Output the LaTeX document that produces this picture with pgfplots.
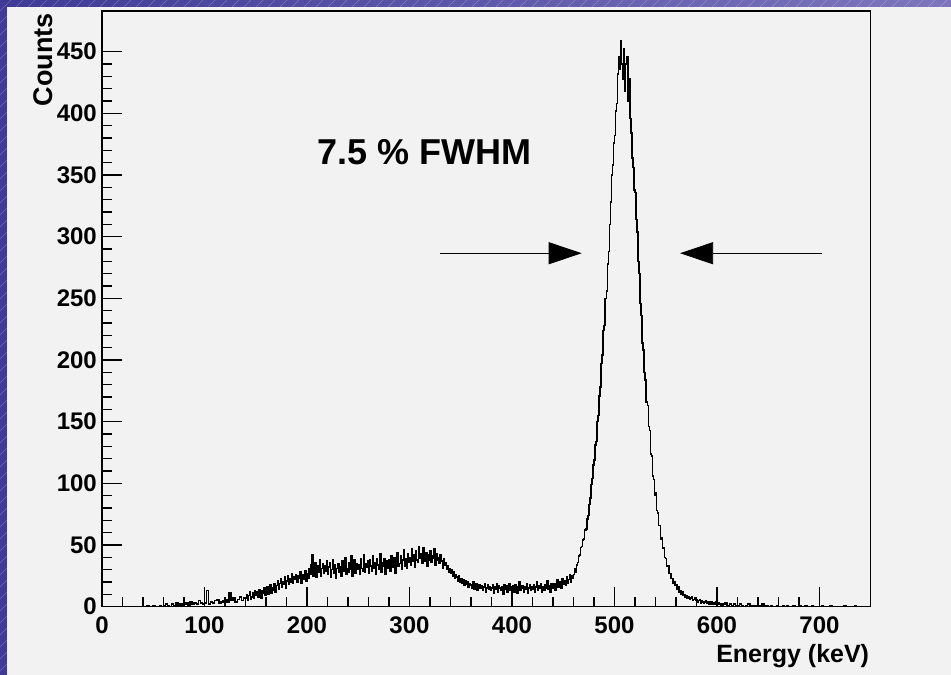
\documentclass[border=0pt]{standalone}
\usepackage{pgfplots}
\pgfplotsset{compat=1.18}
\usepackage{pgfplotstable}
\usepackage{fontspec}
\setmainfont{Liberation Sans}
\usetikzlibrary{arrows.meta}
\definecolor{panel}{HTML}{F2F2F2}
\definecolor{bgA}{RGB}{62,58,150}
\definecolor{bgB}{RGB}{125,118,190}

% 2 keV bins, 0 ... 140 keV
\pgfplotstableread[row sep=\\]{
y\\
0\\0\\0\\0\\0\\0\\0\\0\\0\\0\\
0\\0\\0\\0\\0\\0\\0\\0\\0\\0\\
0\\0\\1\\0\\0\\1\\0\\0\\1\\0\\
1\\2\\1\\0\\2\\1\\3\\1\\2\\1\\
2\\3\\1\\4\\2\\3\\2\\5\\3\\2\\
3\\13\\2\\4\\3\\5\\6\\3\\4\\5\\
6\\4\\11\\5\\7\\4\\6\\8\\5\\7\\
7\\
}\lowpart

% 1 keV bins, 140 ... 600 keV
\pgfplotstableread[row sep=\\]{
y\\
7\\10\\5\\9\\12\\6\\8\\11\\7\\13\\
9\\12\\8\\14\\10\\7\\13\\11\\15\\9\\
12\\16\\10\\14\\18\\11\\15\\13\\19\\12\\
17\\21\\14\\19\\23\\16\\20\\18\\24\\15\\
21\\25\\18\\23\\20\\27\\19\\24\\22\\26\\
20\\25\\23\\28\\19\\26\\22\\24\\29\\21\\
27\\23\\31\\26\\34\\42\\25\\30\\36\\24\\
33\\28\\38\\25\\31\\35\\27\\33\\29\\37\\
26\\32\\36\\24\\30\\38\\27\\34\\23\\31\\
35\\28\\32\\25\\37\\29\\33\\40\\26\\31\\
28\\36\\30\\41\\25\\33\\38\\27\\35\\30\\
34\\26\\39\\31\\29\\42\\28\\35\\32\\37\\
27\\38\\33\\29\\41\\31\\36\\26\\39\\34\\
30\\43\\28\\36\\33\\39\\26\\37\\35\\31\\
38\\29\\41\\34\\32\\40\\27\\36\\44\\33\\
35\\41\\30\\38\\46\\33\\39\\31\\43\\36\\
40\\34\\47\\37\\42\\32\\45\\38\\36\\49\\
39\\43\\35\\48\\37\\41\\44\\33\\42\\38\\
45\\36\\41\\39\\47\\34\\43\\38\\40\\35\\
42\\37\\31\\39\\34\\36\\30\\33\\28\\31\\
27\\30\\25\\28\\23\\26\\24\\21\\25\\20\\
23\\19\\22\\17\\21\\18\\20\\16\\19\\17\\
18\\15\\20\\14\\17\\19\\13\\16\\18\\15\\
17\\13\\16\\19\\12\\15\\18\\14\\16\\13\\
15\\18\\11\\16\\14\\19\\12\\17\\15\\13\\
16\\10\\18\\14\\17\\12\\15\\19\\13\\16\\
14\\17\\12\\18\\15\\11\\16\\20\\13\\15\\
17\\12\\16\\14\\19\\11\\15\\18\\13\\16\\
14\\18\\12\\16\\20\\13\\17\\15\\19\\12\\
16\\13\\18\\15\\21\\14\\17\\12\\19\\16\\
15\\19\\13\\17\\22\\16\\18\\20\\15\\23\\
18\\21\\17\\24\\19\\22\\26\\20\\25\\23\\
26\\31\\28\\34\\36\\41\\42\\48\\49\\54\\
55\\62\\63\\71\\74\\83\\88\\99\\104\\115\\
119\\131\\134\\150\\155\\171\\178\\197\\204\\224\\
228\\250\\256\\278\\288\\310\\328\\350\\358\\376\\
382\\402\\408\\432\\446\\436\\459\\440\\428\\452\\
418\\440\\446\\410\\428\\396\\384\\364\\356\\338\\
336\\314\\304\\280\\270\\246\\236\\214\\208\\190\\
184\\166\\163\\146\\143\\124\\122\\106\\103\\90\\
92\\78\\76\\66\\66\\55\\56\\47\\48\\40\\
39\\33\\33\\27\\27\\23\\23\\19\\20\\17\\
18\\14\\16\\12\\13\\10\\12\\9\\10\\8\\
9\\7\\8\\6\\7\\8\\5\\6\\7\\5\\
6\\4\\5\\6\\3\\5\\4\\3\\4\\5\\
3\\4\\2\\3\\4\\2\\3\\3\\2\\4\\
3\\
}\midpart

% 2 keV bins, 600 ... 750 keV
\pgfplotstableread[row sep=\\]{
y\\
3\\2\\1\\2\\3\\1\\2\\1\\2\\1\\
1\\2\\1\\0\\1\\2\\1\\0\\1\\1\\
0\\1\\2\\0\\1\\0\\1\\0\\0\\1\\
0\\0\\1\\0\\1\\0\\0\\1\\0\\0\\
1\\0\\0\\1\\0\\0\\1\\0\\0\\0\\
0\\1\\0\\0\\0\\1\\0\\0\\0\\0\\
0\\0\\1\\0\\0\\0\\0\\1\\0\\0\\
0\\0\\0\\0\\0\\0\\
}\highpart

\begin{document}
\begin{tikzpicture}[x=1pt,y=1pt]
\path[use as bounding box] (0,0) rectangle (951,675);
\shade[left color=bgA, right color=bgB] (0,0) rectangle (951,675);
\begin{scope}
\clip (0,0) rectangle (951,675);
\foreach \i in {-700,-688,...,960} \draw[white,opacity=0.25,line width=0.4pt] (\i,0) -- ++(675,675);
\fill[panel] (7,0) rectangle (951,668);
\node[white, font=\bfseries\fontsize{37}{40}\selectfont, anchor=base, inner sep=0pt] at (496,682) {Energy spectrum};
\end{scope}
\begin{axis}[
  scale only axis,
  width=768.7pt, height=595.7pt,
  at={(102pt,68.3pt)}, anchor=south west,
  xmin=0, xmax=750, ymin=0, ymax=483,
  xtick={0,100,...,700}, ytick={0,50,...,450},
  minor x tick num=4, minor y tick num=4,
  tick align=inside, tick pos=left,
  major tick length=20pt, minor tick length=10pt,
  tick style={black, line width=1.2pt},
  axis line style={line width=1.3pt},
  ticklabel style={font=\bfseries\fontsize{24}{28}\selectfont},
  /pgf/number format/assume math mode=true,
  yticklabel style={inner sep=0pt, xshift=-5pt},
  xticklabel style={inner sep=0pt, yshift=-10pt},
]
\addplot[const plot mark left, black, line width=1.5pt] table[x expr=\coordindex*2, y=y] {\lowpart};
\addplot[const plot mark left, black, line width=1.5pt] table[x expr=140+\coordindex, y=y] {\midpart};
\addplot[const plot mark left, black, line width=1.5pt] table[x expr=600+\coordindex*2, y=y] {\highpart};
\node[anchor=base, inner sep=0pt, font=\bfseries\fontsize{36}{40}\selectfont] at (axis cs:315,358.2) {7.5 \% FWHM};
\draw[-{Triangle[length=33pt,width=22pt]}, line width=0.8pt] (axis cs:329.8,286.6) -- (axis cs:468,286.6);
\draw[-{Triangle[length=33pt,width=22pt]}, line width=0.8pt] (axis cs:702.4,286.6) -- (axis cs:564,286.6);
\end{axis}
\node[rotate=90, anchor=south east, inner sep=0pt, font=\bfseries\fontsize{27}{30}\selectfont] at (53,662) {Counts};
\node[anchor=base east, inner sep=0pt, font=\bfseries\fontsize{25}{28}\selectfont] at (869.3,12.3) {Energy (keV)};
\end{tikzpicture}
\end{document}
